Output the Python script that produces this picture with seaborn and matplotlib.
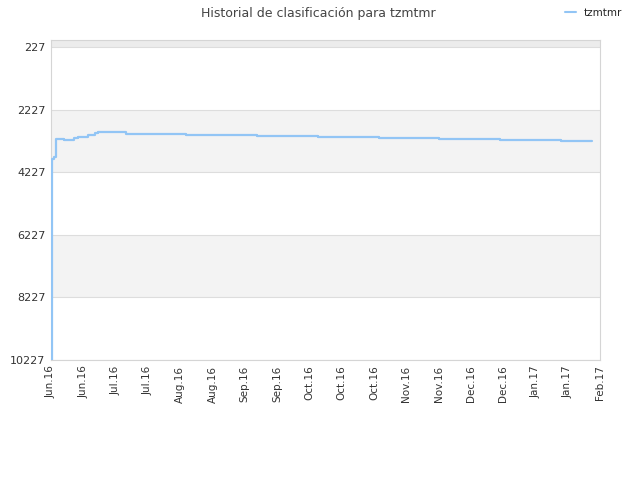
import matplotlib
matplotlib.use("Agg")
import matplotlib.pyplot as plt
import seaborn as sns
import numpy as np
import pandas as pd

# Data (days since start, rank)
days = [0, 0.3, 1.3, 2.2, 5.8, 10.3, 12.0, 16.5, 19.6, 21.0, 33.5, 60.2, 91.9, 119.2, 146.4, 173.2, 200.4, 227.6, 241.4]
ranks = [10227, 3805, 3741, 3166, 3198, 3134, 3103, 3039, 2975, 2943, 3007, 3039, 3071, 3103, 3118, 3150, 3182, 3214, 3214]
x_labels = ["Jun.16", "Jun.16", "Jul.16", "Jul.16", "Aug.16", "Aug.16", "Sep.16", "Sep.16",
            "Oct.16", "Oct.16", "Oct.16", "Nov.16", "Nov.16", "Dec.16", "Dec.16", "Jan.17",
            "Jan.17", "Feb.17"]
y_ticks = [227, 2227, 4227, 6227, 8227, 10227]
total_days = 245

df = pd.DataFrame({"day": days, "rank": ranks})

sns.set_style("white")
plt.rcParams['font.family'] = ['DejaVu Sans']

fig = plt.figure(figsize=(6.4, 4.8), dpi=100)
ax = fig.add_axes([51/640, 1-360/480, (600-51)/640, (360-40)/480])

# background bands
ax.axhspan(0, 227, color="#ececec", zorder=0, lw=0)
ax.axhspan(2227, 4227, color="#f3f3f3", zorder=0, lw=0)
ax.axhspan(6227, 8227, color="#f3f3f3", zorder=0, lw=0)
for t in y_ticks:
    ax.axhline(t, color="#dddddd", lw=0.8, zorder=1)

sns.lineplot(data=df, x="day", y="rank", drawstyle="steps-post", color="#92c5f5",
             lw=1.6, ax=ax, label="tzmtmr", zorder=3)

ax.set_xlim(0, total_days)
ax.set_ylim(10227, 0)
ax.set_yticks(y_ticks)
ax.set_yticklabels([str(t) for t in y_ticks], fontsize=8, color="#333333")
ax.set_xticks(np.linspace(0, total_days, len(x_labels)))
ax.set_xticklabels(x_labels, rotation=90, fontsize=7.5, color="#333333")
ax.tick_params(axis="both", length=0, pad=4)
ax.set_xlabel("")
ax.set_ylabel("")
for s in ax.spines.values():
    s.set_color("#d5d5d5")
    s.set_linewidth(0.8)

fig.text(0.497, 1-13/480, "Historial de clasificación para tzmtmr", ha="center", va="center",
         fontsize=9, color="#444444")

leg = ax.legend(loc="upper right", bbox_to_anchor=(1.058, 1.13), frameon=False, fontsize=7.5,
                handlelength=1.0, handletextpad=0.8)
for line in leg.get_lines():
    line.set_linewidth(1.5)

fig.savefig("out.png", dpi=100)
